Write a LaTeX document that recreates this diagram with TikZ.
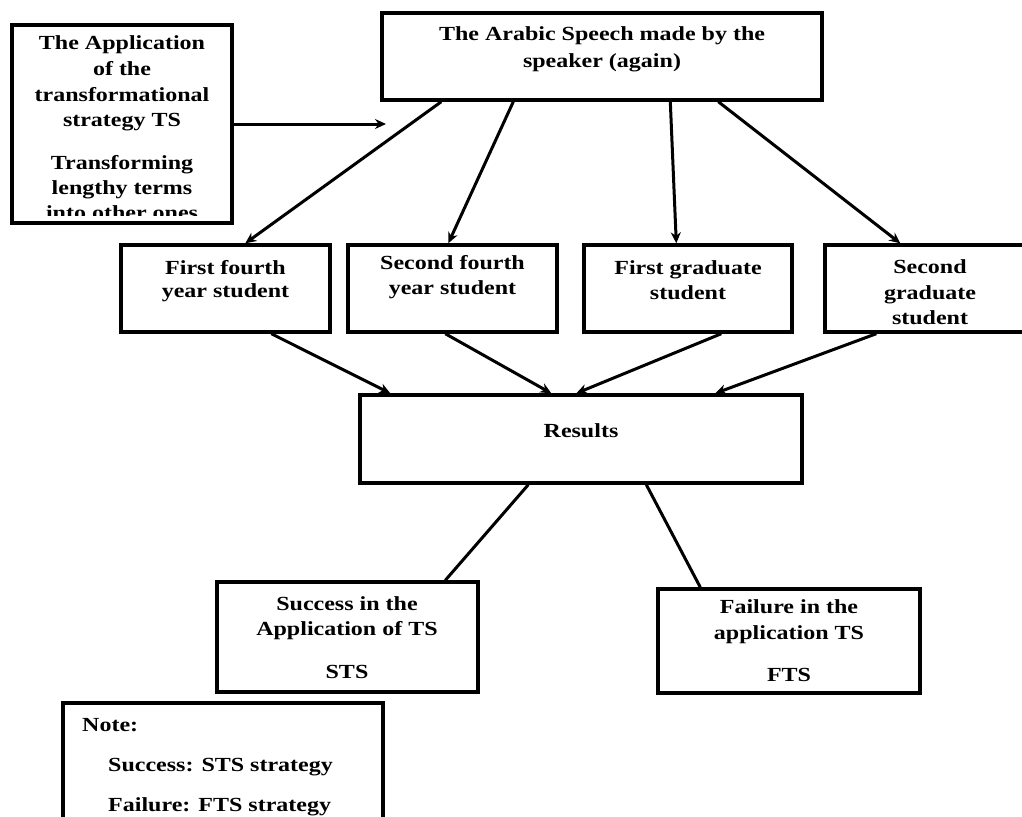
\documentclass[tikz,border=0pt]{standalone}
\usepackage{fontspec}
\setmainfont{Liberation Serif}[FakeStretch=1.2]
\usetikzlibrary{arrows.meta}
\begin{document}
\begin{tikzpicture}[x=1pt,y=-1pt,
  box/.style={draw, line width=3.4pt, rectangle, inner sep=0pt},
  txt/.style={inner sep=0pt, align=center, font=\bfseries\fontsize{20}{25}\selectfont},
  txtl/.style={inner sep=0pt, anchor=west, font=\bfseries\fontsize{20}{25}\selectfont},
  arr/.style={line width=3pt, -{Stealth[length=11pt,width=10pt]}},
  ln/.style={line width=3pt}]
\clip (0,0) rectangle (1022,816);
\fill[white] (0,0) rectangle (1022,816);
% boxes
\node[box, minimum width=220pt, minimum height=198pt] (apply) at (122,124) {};
\node[box, minimum width=440pt, minimum height=87pt] (top) at (602,56.5) {};
\node[box, minimum width=209pt, minimum height=87pt] (s1) at (225.5,288.5) {};
\node[box, minimum width=209pt, minimum height=87pt] (s2) at (452.5,288.5) {};
\node[box, minimum width=208pt, minimum height=87pt] (s3) at (688,288.5) {};
\node[box, minimum width=211pt, minimum height=87pt] (s4) at (930.5,288.5) {};
\node[box, minimum width=442pt, minimum height=88pt] (res) at (581,439) {};
\node[box, minimum width=261pt, minimum height=110pt] (succ) at (347.5,637) {};
\node[box, minimum width=262pt, minimum height=104pt] (fail) at (789,641) {};
\node[box, minimum width=320pt, minimum height=147pt] (note) at (223,776.5) {};
% texts
\node[txt, font=\bfseries\fontsize{20}{27}\selectfont] (toptext) at (602,49.5) {The Arabic Speech made by the\\speaker (again)};
\node[txt, font=\bfseries\fontsize{20}{25.7}\selectfont] (applytext) at (122,83.5) {The Application\\of the\\transformational\\strategy TS};
\begin{scope}
\clip (14,27) rectangle (230,215.5);
\node[txt] (applytext2) at (122,188) {Transforming\\lengthy terms\\into other ones};
\end{scope}
\node[txt, font=\bfseries\fontsize{20}{23}\selectfont] (s1text) at (225.5,281.5) {First fourth\\year student};
\node[txt] (s2text) at (452.5,277.5) {Second fourth\\year student};
\node[txt] (s3text) at (688,280.5) {First graduate\\student};
\node[txt, font=\bfseries\fontsize{20}{25.5}\selectfont] (s4text) at (930,292.5) {Second\\graduate\\student};
\node[txt] (restext) at (581,431) {Results};
\node[txt] (succtext) at (347,618.5) {Success in the\\Application of TS};
\node[txt] (succabbr) at (347,672) {STS};
\node[txt, font=\bfseries\fontsize{20}{26}\selectfont] (failtext) at (789,622) {Failure in the\\application TS};
\node[txt] (failabbr) at (789,675) {FTS};
\node[txtl] (notetitle) at (82,725) {Note:};
\node[txtl] (note1) at (108,767) {Success: STS strategy};
\node[txtl] (note2) at (108,807) {Failure: FTS strategy};
% connectors
\coordinate (applytip) at (386,124);
\draw[arr] (apply.east) -- (applytip);
\draw[arr] ([xshift=61pt]top.south west) -- ([xshift=126pt]s1.north west);
\draw[arr] ([xshift=133pt]top.south west) -- ([xshift=102pt]s2.north west);
\draw[arr] ([xshift=290pt]top.south west) -- ([xshift=94pt]s3.north west);
\draw[arr] ([xshift=338pt]top.south west) -- ([xshift=77pt]s4.north west);
\draw[arr] ([xshift=152pt]s1.south west) -- ([xshift=32pt]res.north west);
\draw[arr] ([xshift=99pt]s2.south west) -- ([xshift=193pt]res.north west);
\draw[arr] ([xshift=139pt]s3.south west) -- ([xshift=218pt]res.north west);
\draw[arr] ([xshift=53pt]s4.south west) -- ([xshift=357pt]res.north west);
\draw[ln] ([xshift=170pt]res.south west) -- ([xshift=230pt]succ.north west);
\draw[ln] ([xshift=288pt]res.south west) -- ([xshift=44pt]fail.north west);
\end{tikzpicture}
\end{document}
